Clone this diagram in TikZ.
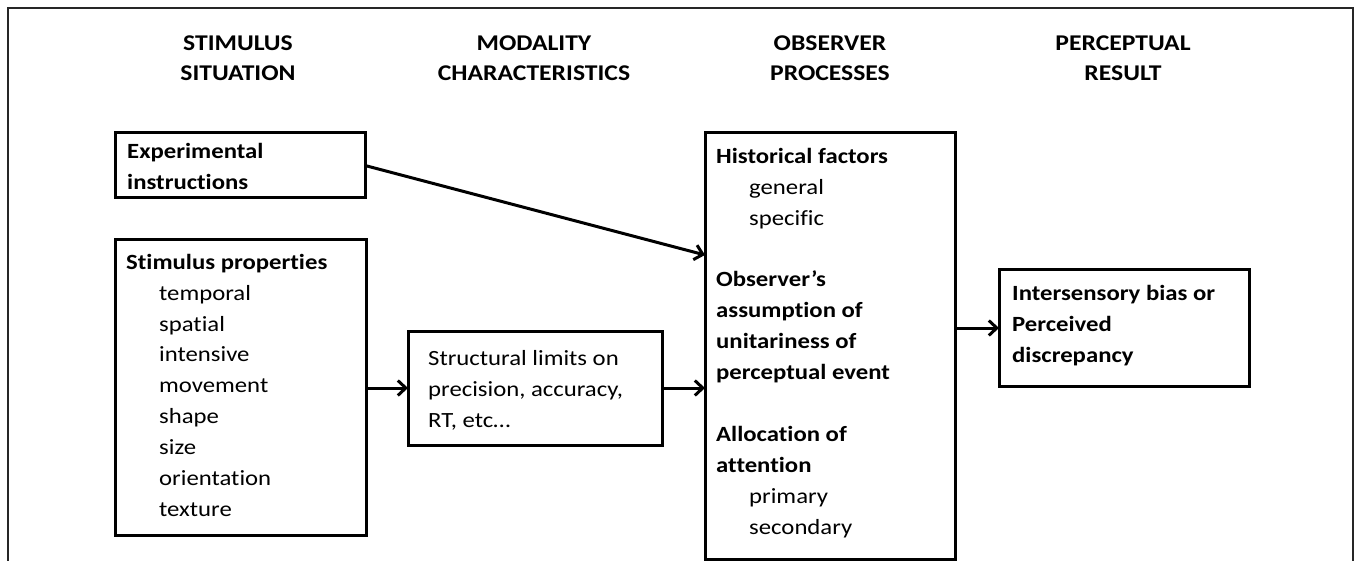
\documentclass[tikz,border=0pt]{standalone}
\usepackage{fontspec}
\setmainfont{Carlito}[FakeStretch=1.14, Ligatures={NoCommon}]
\usetikzlibrary{arrows.meta,calc}
\begin{document}
\begin{tikzpicture}[x=1pt,y=-1pt,
  box/.style={draw, line width=3pt, inner sep=0pt, outer sep=0pt, anchor=north west},
  txt/.style={inner sep=0pt, anchor=north west, align=left, font=\fontsize{21.7}{30.9}\selectfont},
  btxt/.style={txt, font=\bfseries\fontsize{21.7}{30.9}\selectfont},
  hdr/.style={inner sep=0pt, anchor=north, align=center, font=\bfseries\fontsize{22.5}{30}\selectfont},
  arr/.style={line width=3pt, -{Straight Barb[length=8pt,width=15pt,line width=3pt]}}
]
\useasboundingbox (0,0) rectangle (1357,561);
\fill[white] (0,0) rectangle (1357,561);
% outer frame
\draw[line width=1.2pt, black!85] (8,561) -- (8,8) -- (1353,8) -- (1353,561);

% headers
\node[hdr] (h1) at (238,29) {\strut STIMULUS\\SITUATION};
\node[hdr] (h2) at (534,29) {\strut MODALITY\\CHARACTERISTICS};
\node[hdr] (h3) at (830,29) {\strut OBSERVER\\PROCESSES};
\node[hdr] (h4) at (1123,29) {\strut PERCEPTUAL\\RESULT};

% boxes
\node[box, minimum width=250pt, minimum height=65pt] (exp) at (115,133) {};
\node[box, minimum width=251pt, minimum height=295pt] (stim) at (115,240) {};
\node[box, minimum width=254pt, minimum height=114pt] (struct) at (408,331) {};
\node[box, minimum width=250pt, minimum height=426pt] (obs) at (705,133) {};
\node[box, minimum width=250pt, minimum height=116pt] (res) at (999,270) {};

% texts
\node[btxt] (exptxt) at (127,136.4) {\strut Experimental\\instructions};
\node[txt] (stimtxt) at (126,247.4) {\strut\textbf{Stimulus properties}\\
  \hspace*{33pt}temporal\\
  \hspace*{33pt}spatial\\
  \hspace*{33pt}intensive\\
  \hspace*{33pt}movement\\
  \hspace*{33pt}shape\\
  \hspace*{33pt}size\\
  \hspace*{33pt}orientation\\
  \hspace*{33pt}texture};
\node[txt] (structxt) at (428,343.4) {\strut Structural limits on\\precision, accuracy,\\RT, etc\ldots};
\node[txt] (obstxt) at (716,141.4) {\strut\textbf{Historical factors}\\
  \hspace*{33pt}general\\
  \hspace*{33pt}specific\\
  \strut\\
  \textbf{Observer’s}\\
  \textbf{assumption of}\\
  \textbf{unitariness of}\\
  \textbf{perceptual event}\\
  \strut\\
  \textbf{Allocation of}\\
  \textbf{attention}\\
  \hspace*{33pt}primary\\
  \hspace*{33pt}secondary};
\node[btxt] (restxt) at (1012,278.4) {\strut Intersensory bias or\\Perceived\\discrepancy};

% connectors
\coordinate (obsin1) at ($(obs.north west)+(0,122)$);
\draw[arr] (exp.east) -- (obsin1);
\draw[arr] (stim.east |- struct.west) -- (struct.west);
\draw[arr] (struct.east) -- (obs.west |- struct.east);
\draw[arr] (obs.east |- res.west) -- (res.west);
\end{tikzpicture}
\end{document}
